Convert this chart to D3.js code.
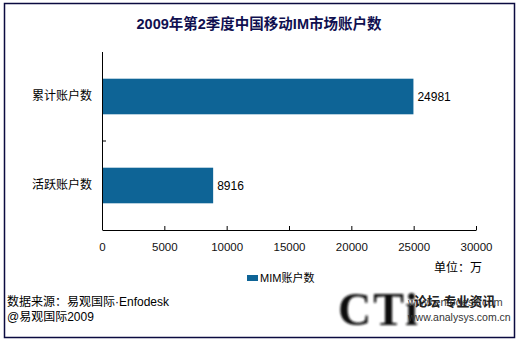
<!DOCTYPE html>
<html><head><meta charset="utf-8">
<script src="https://cdn.jsdelivr.net/npm/d3@7"></script>
<style>body{margin:0;background:#fff}svg{display:block}</style>
</head><body>
<script>
const categories = ["累计账户数", "活跃账户数"];
const values = [24981, 8916];
const xTicks = [0, 5000, 10000, 15000, 20000, 25000, 30000];
const seriesName = "MIM账户数";
const title = "2009年第2季度中国移动IM市场账户数";
const unitLabel = "单位：万";
const sourceLines = ["数据来源：易观国际·Enfodesk", "@易观国际2009"];

const W = 518, H = 343;
const svg = d3.select("body").append("svg").attr("width", W).attr("height", H);
const font = "'Liberation Sans', Arial, 'Noto Sans CJK SC', sans-serif";
const cjk = "'Liberation Sans', 'Noto Sans CJK SC', sans-serif";

svg.append("rect").attr("x", 4.5).attr("y", 3.5).attr("width", 510).attr("height", 334)
  .attr("fill", "#fff").attr("stroke", "#0b0b40").attr("stroke-width", 1.5);

svg.append("text").attr("x", 259).attr("y", 29).attr("text-anchor", "middle")
  .attr("font-family", cjk).attr("font-weight", "bold").attr("font-size", 14.5)
  .attr("fill", "#101050").text(title);

const pLeft = 102, pRight = 476, pTop = 52, pBottom = 230;
const x = d3.scaleLinear().domain([0, 30000]).range([pLeft, pRight]);
const y = d3.scaleBand().domain(categories).range([pTop, pBottom]).paddingInner(0.6).paddingOuter(0.3);

svg.selectAll("rect.bar").data(values).enter().append("rect").attr("class", "bar")
  .attr("x", x(0)).attr("y", (d, i) => y(categories[i]))
  .attr("width", d => x(d) - x(0)).attr("height", y.bandwidth())
  .attr("fill", "#0e6496");

svg.selectAll("text.val").data(values).enter().append("text").attr("class", "val")
  .attr("x", d => x(d) + 4).attr("y", (d, i) => y(categories[i]) + y.bandwidth() / 2 + 4)
  .attr("font-family", font).attr("font-size", 12).attr("fill", "#000").text(d => d);

// axes
const ax = svg.append("g").attr("transform", `translate(0,${pBottom})`)
  .call(d3.axisBottom(x).tickValues(xTicks).tickFormat(d3.format("d"))
    .tickSizeInner(-4).tickSizeOuter(0).tickPadding(13));
ax.select(".domain").attr("stroke", "#000");
ax.selectAll(".tick line").attr("stroke", "#000");
ax.selectAll(".tick text").attr("font-family", font).attr("font-size", 11.5).attr("fill", "#111");

const ay = svg.append("g").attr("transform", `translate(${pLeft},0)`)
  .call(d3.axisLeft(y).tickSize(0).tickPadding(10));
ay.select(".domain").remove();
ay.selectAll(".tick text").attr("font-family", cjk).attr("font-size", 12).attr("fill", "#000");
svg.append("line").attr("x1", pLeft + 0.5).attr("x2", pLeft + 0.5).attr("y1", pTop).attr("y2", pBottom).attr("stroke", "#000");
svg.append("line").attr("x1", pLeft).attr("x2", pLeft + 4).attr("y1", (pTop + pBottom) / 2).attr("y2", (pTop + pBottom) / 2).attr("stroke", "#000");

svg.append("text").attr("x", 482).attr("y", 272).attr("text-anchor", "end")
  .attr("font-family", cjk).attr("font-size", 12).attr("fill", "#000").text(unitLabel);

// legend
svg.append("rect").attr("x", 247).attr("y", 275).attr("width", 11).attr("height", 6).attr("fill", "#0e6496");
svg.append("text").attr("x", 260).attr("y", 282).attr("font-family", cjk).attr("font-size", 11)
  .attr("fill", "#000").text(seriesName);

// source
svg.selectAll("text.src").data(sourceLines).enter().append("text").attr("class", "src")
  .attr("x", 7).attr("y", (d, i) => 306 + i * 15).attr("font-family", cjk).attr("font-size", 12)
  .attr("fill", "#000").text(d => d);

// watermark
const defs = svg.append("defs");
defs.append("filter").attr("id", "blur").append("feGaussianBlur").attr("stdDeviation", 1.2);
svg.append("text").attr("x", 338).attr("y", 325).attr("font-family", "'Liberation Serif', serif")
  .attr("font-weight", "bold").attr("font-size", 46).attr("fill", "#111").attr("filter", "url(#blur)")
  .attr("letter-spacing", 2).text("CTi");
svg.append("text").attr("x", 408).attr("y", 306).attr("font-family", cjk).attr("font-size", 11)
  .attr("fill", "#444").text("www.enfodesk.com");
svg.append("text").attr("x", 414).attr("y", 306).attr("font-family", cjk).attr("font-size", 13)
  .attr("fill", "#222").attr("font-weight", "bold").text("论坛 专业资讯");
svg.append("text").attr("x", 408).attr("y", 321).attr("font-family", cjk).attr("font-size", 10.5)
  .attr("fill", "#333").text("www.analysys.com.cn");
</script>
</body></html>
